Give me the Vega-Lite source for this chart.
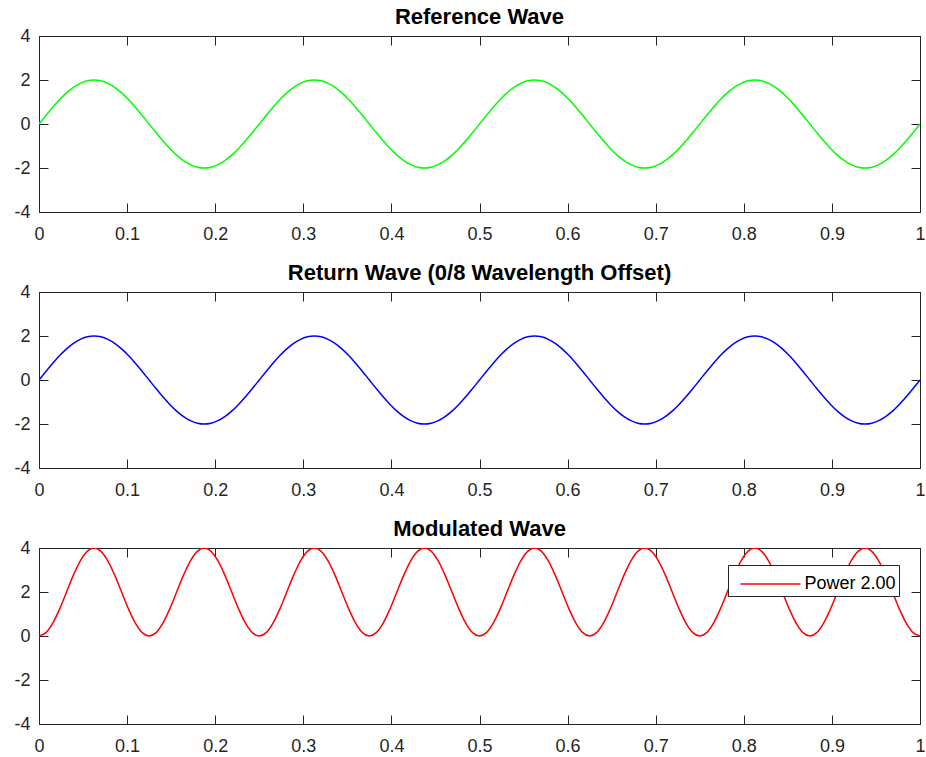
{
"$schema":"https://vega.github.io/schema/vega-lite/v6.json",
"padding":{"left":13,"top":6,"right":1,"bottom":2},
"spacing":19,
"resolve":{"legend":{"color":"independent"},"scale":{"color":"independent"}},
"config":{
"view":{"stroke":null},
"font":"Liberation Sans",
"axis":{"grid":false,"labelFlush":false,"domainColor":"#262626","domainWidth":1,"tickColor":"#262626","tickWidth":1,"tickSize":-9,"labelColor":"#262626","labelFont":"Liberation Sans","labelFontSize":18,"title":null,"labelPadding":22,"labelExpr":"replace(datum.label, '−', '-')"},
"axisY":{"labelPadding":18},
"title":{"font":"Liberation Sans","fontSize":22,"fontWeight":"bold","color":"#000000","offset":-2},
"legend":{"labelFont":"Liberation Sans","labelFontSize":18,"labelColor":"#000000"}
},
"data":{"values":[
{"x":0,"ref":0,"ret":0,"mod":0},
{"x":0.0078125,"ref":0.3902,"ret":0.3902,"mod":0.1522},
{"x":0.015625,"ref":0.7654,"ret":0.7654,"mod":0.5858},
{"x":0.0234375,"ref":1.1111,"ret":1.1111,"mod":1.2346},
{"x":0.03125,"ref":1.4142,"ret":1.4142,"mod":2},
{"x":0.0390625,"ref":1.6629,"ret":1.6629,"mod":2.7654},
{"x":0.046875,"ref":1.8478,"ret":1.8478,"mod":3.4142},
{"x":0.0546875,"ref":1.9616,"ret":1.9616,"mod":3.8478},
{"x":0.0625,"ref":2,"ret":2,"mod":4},
{"x":0.0703125,"ref":1.9616,"ret":1.9616,"mod":3.8478},
{"x":0.078125,"ref":1.8478,"ret":1.8478,"mod":3.4142},
{"x":0.0859375,"ref":1.6629,"ret":1.6629,"mod":2.7654},
{"x":0.09375,"ref":1.4142,"ret":1.4142,"mod":2},
{"x":0.1015625,"ref":1.1111,"ret":1.1111,"mod":1.2346},
{"x":0.109375,"ref":0.7654,"ret":0.7654,"mod":0.5858},
{"x":0.1171875,"ref":0.3902,"ret":0.3902,"mod":0.1522},
{"x":0.125,"ref":0,"ret":0,"mod":0},
{"x":0.1328125,"ref":-0.3902,"ret":-0.3902,"mod":0.1522},
{"x":0.140625,"ref":-0.7654,"ret":-0.7654,"mod":0.5858},
{"x":0.1484375,"ref":-1.1111,"ret":-1.1111,"mod":1.2346},
{"x":0.15625,"ref":-1.4142,"ret":-1.4142,"mod":2},
{"x":0.1640625,"ref":-1.6629,"ret":-1.6629,"mod":2.7654},
{"x":0.171875,"ref":-1.8478,"ret":-1.8478,"mod":3.4142},
{"x":0.1796875,"ref":-1.9616,"ret":-1.9616,"mod":3.8478},
{"x":0.1875,"ref":-2,"ret":-2,"mod":4},
{"x":0.1953125,"ref":-1.9616,"ret":-1.9616,"mod":3.8478},
{"x":0.203125,"ref":-1.8478,"ret":-1.8478,"mod":3.4142},
{"x":0.2109375,"ref":-1.6629,"ret":-1.6629,"mod":2.7654},
{"x":0.21875,"ref":-1.4142,"ret":-1.4142,"mod":2},
{"x":0.2265625,"ref":-1.1111,"ret":-1.1111,"mod":1.2346},
{"x":0.234375,"ref":-0.7654,"ret":-0.7654,"mod":0.5858},
{"x":0.2421875,"ref":-0.3902,"ret":-0.3902,"mod":0.1522},
{"x":0.25,"ref":0,"ret":0,"mod":0},
{"x":0.2578125,"ref":0.3902,"ret":0.3902,"mod":0.1522},
{"x":0.265625,"ref":0.7654,"ret":0.7654,"mod":0.5858},
{"x":0.2734375,"ref":1.1111,"ret":1.1111,"mod":1.2346},
{"x":0.28125,"ref":1.4142,"ret":1.4142,"mod":2},
{"x":0.2890625,"ref":1.6629,"ret":1.6629,"mod":2.7654},
{"x":0.296875,"ref":1.8478,"ret":1.8478,"mod":3.4142},
{"x":0.3046875,"ref":1.9616,"ret":1.9616,"mod":3.8478},
{"x":0.3125,"ref":2,"ret":2,"mod":4},
{"x":0.3203125,"ref":1.9616,"ret":1.9616,"mod":3.8478},
{"x":0.328125,"ref":1.8478,"ret":1.8478,"mod":3.4142},
{"x":0.3359375,"ref":1.6629,"ret":1.6629,"mod":2.7654},
{"x":0.34375,"ref":1.4142,"ret":1.4142,"mod":2},
{"x":0.3515625,"ref":1.1111,"ret":1.1111,"mod":1.2346},
{"x":0.359375,"ref":0.7654,"ret":0.7654,"mod":0.5858},
{"x":0.3671875,"ref":0.3902,"ret":0.3902,"mod":0.1522},
{"x":0.375,"ref":0,"ret":0,"mod":0},
{"x":0.3828125,"ref":-0.3902,"ret":-0.3902,"mod":0.1522},
{"x":0.390625,"ref":-0.7654,"ret":-0.7654,"mod":0.5858},
{"x":0.3984375,"ref":-1.1111,"ret":-1.1111,"mod":1.2346},
{"x":0.40625,"ref":-1.4142,"ret":-1.4142,"mod":2},
{"x":0.4140625,"ref":-1.6629,"ret":-1.6629,"mod":2.7654},
{"x":0.421875,"ref":-1.8478,"ret":-1.8478,"mod":3.4142},
{"x":0.4296875,"ref":-1.9616,"ret":-1.9616,"mod":3.8478},
{"x":0.4375,"ref":-2,"ret":-2,"mod":4},
{"x":0.4453125,"ref":-1.9616,"ret":-1.9616,"mod":3.8478},
{"x":0.453125,"ref":-1.8478,"ret":-1.8478,"mod":3.4142},
{"x":0.4609375,"ref":-1.6629,"ret":-1.6629,"mod":2.7654},
{"x":0.46875,"ref":-1.4142,"ret":-1.4142,"mod":2},
{"x":0.4765625,"ref":-1.1111,"ret":-1.1111,"mod":1.2346},
{"x":0.484375,"ref":-0.7654,"ret":-0.7654,"mod":0.5858},
{"x":0.4921875,"ref":-0.3902,"ret":-0.3902,"mod":0.1522},
{"x":0.5,"ref":0,"ret":0,"mod":0},
{"x":0.5078125,"ref":0.3902,"ret":0.3902,"mod":0.1522},
{"x":0.515625,"ref":0.7654,"ret":0.7654,"mod":0.5858},
{"x":0.5234375,"ref":1.1111,"ret":1.1111,"mod":1.2346},
{"x":0.53125,"ref":1.4142,"ret":1.4142,"mod":2},
{"x":0.5390625,"ref":1.6629,"ret":1.6629,"mod":2.7654},
{"x":0.546875,"ref":1.8478,"ret":1.8478,"mod":3.4142},
{"x":0.5546875,"ref":1.9616,"ret":1.9616,"mod":3.8478},
{"x":0.5625,"ref":2,"ret":2,"mod":4},
{"x":0.5703125,"ref":1.9616,"ret":1.9616,"mod":3.8478},
{"x":0.578125,"ref":1.8478,"ret":1.8478,"mod":3.4142},
{"x":0.5859375,"ref":1.6629,"ret":1.6629,"mod":2.7654},
{"x":0.59375,"ref":1.4142,"ret":1.4142,"mod":2},
{"x":0.6015625,"ref":1.1111,"ret":1.1111,"mod":1.2346},
{"x":0.609375,"ref":0.7654,"ret":0.7654,"mod":0.5858},
{"x":0.6171875,"ref":0.3902,"ret":0.3902,"mod":0.1522},
{"x":0.625,"ref":0,"ret":0,"mod":0},
{"x":0.6328125,"ref":-0.3902,"ret":-0.3902,"mod":0.1522},
{"x":0.640625,"ref":-0.7654,"ret":-0.7654,"mod":0.5858},
{"x":0.6484375,"ref":-1.1111,"ret":-1.1111,"mod":1.2346},
{"x":0.65625,"ref":-1.4142,"ret":-1.4142,"mod":2},
{"x":0.6640625,"ref":-1.6629,"ret":-1.6629,"mod":2.7654},
{"x":0.671875,"ref":-1.8478,"ret":-1.8478,"mod":3.4142},
{"x":0.6796875,"ref":-1.9616,"ret":-1.9616,"mod":3.8478},
{"x":0.6875,"ref":-2,"ret":-2,"mod":4},
{"x":0.6953125,"ref":-1.9616,"ret":-1.9616,"mod":3.8478},
{"x":0.703125,"ref":-1.8478,"ret":-1.8478,"mod":3.4142},
{"x":0.7109375,"ref":-1.6629,"ret":-1.6629,"mod":2.7654},
{"x":0.71875,"ref":-1.4142,"ret":-1.4142,"mod":2},
{"x":0.7265625,"ref":-1.1111,"ret":-1.1111,"mod":1.2346},
{"x":0.734375,"ref":-0.7654,"ret":-0.7654,"mod":0.5858},
{"x":0.7421875,"ref":-0.3902,"ret":-0.3902,"mod":0.1522},
{"x":0.75,"ref":0,"ret":0,"mod":0},
{"x":0.7578125,"ref":0.3902,"ret":0.3902,"mod":0.1522},
{"x":0.765625,"ref":0.7654,"ret":0.7654,"mod":0.5858},
{"x":0.7734375,"ref":1.1111,"ret":1.1111,"mod":1.2346},
{"x":0.78125,"ref":1.4142,"ret":1.4142,"mod":2},
{"x":0.7890625,"ref":1.6629,"ret":1.6629,"mod":2.7654},
{"x":0.796875,"ref":1.8478,"ret":1.8478,"mod":3.4142},
{"x":0.8046875,"ref":1.9616,"ret":1.9616,"mod":3.8478},
{"x":0.8125,"ref":2,"ret":2,"mod":4},
{"x":0.8203125,"ref":1.9616,"ret":1.9616,"mod":3.8478},
{"x":0.828125,"ref":1.8478,"ret":1.8478,"mod":3.4142},
{"x":0.8359375,"ref":1.6629,"ret":1.6629,"mod":2.7654},
{"x":0.84375,"ref":1.4142,"ret":1.4142,"mod":2},
{"x":0.8515625,"ref":1.1111,"ret":1.1111,"mod":1.2346},
{"x":0.859375,"ref":0.7654,"ret":0.7654,"mod":0.5858},
{"x":0.8671875,"ref":0.3902,"ret":0.3902,"mod":0.1522},
{"x":0.875,"ref":0,"ret":0,"mod":0},
{"x":0.8828125,"ref":-0.3902,"ret":-0.3902,"mod":0.1522},
{"x":0.890625,"ref":-0.7654,"ret":-0.7654,"mod":0.5858},
{"x":0.8984375,"ref":-1.1111,"ret":-1.1111,"mod":1.2346},
{"x":0.90625,"ref":-1.4142,"ret":-1.4142,"mod":2},
{"x":0.9140625,"ref":-1.6629,"ret":-1.6629,"mod":2.7654},
{"x":0.921875,"ref":-1.8478,"ret":-1.8478,"mod":3.4142},
{"x":0.9296875,"ref":-1.9616,"ret":-1.9616,"mod":3.8478},
{"x":0.9375,"ref":-2,"ret":-2,"mod":4},
{"x":0.9453125,"ref":-1.9616,"ret":-1.9616,"mod":3.8478},
{"x":0.953125,"ref":-1.8478,"ret":-1.8478,"mod":3.4142},
{"x":0.9609375,"ref":-1.6629,"ret":-1.6629,"mod":2.7654},
{"x":0.96875,"ref":-1.4142,"ret":-1.4142,"mod":2},
{"x":0.9765625,"ref":-1.1111,"ret":-1.1111,"mod":1.2346},
{"x":0.984375,"ref":-0.7654,"ret":-0.7654,"mod":0.5858},
{"x":0.9921875,"ref":-0.3902,"ret":-0.3902,"mod":0.1522},
{"x":1,"ref":0,"ret":0,"mod":0}
]},
"vconcat":[
{"width":881,"height":176,"title":"Reference Wave",
"layer":[
{"mark":{"type":"line","color":"#00ff00","strokeWidth":1.5,"interpolate":"monotone","clip":true},
"encoding":{
"x":{"field":"x","type":"quantitative","scale":{"domain":[0,1],"nice":false,"zero":false},"axis":{"orient":"bottom","values":[0,0.1,0.2,0.3,0.4,0.5,0.6,0.7,0.8,0.9,1],"format":"~g"}},
"y":{"field":"ref","type":"quantitative","scale":{"domain":[-4,4],"nice":false},"axis":{"orient":"left","values":[-4,-2,0,2,4]}}}},
{"mark":{"type":"line","strokeOpacity":0},
"encoding":{
"x":{"field":"x","type":"quantitative","axis":{"orient":"top","values":[0,0.1,0.2,0.3,0.4,0.5,0.6,0.7,0.8,0.9,1],"labels":false}},
"y":{"field":"ref","type":"quantitative","axis":{"orient":"right","values":[-4,-2,0,2,4],"labels":false}}}}
],
"resolve":{"axis":{"x":"independent","y":"independent"}}},
{"width":881,"height":176,"title":"Return Wave (0/8 Wavelength Offset)",
"layer":[
{"mark":{"type":"line","color":"#0000ff","strokeWidth":1.5,"interpolate":"monotone","clip":true},
"encoding":{
"x":{"field":"x","type":"quantitative","scale":{"domain":[0,1],"nice":false,"zero":false},"axis":{"orient":"bottom","values":[0,0.1,0.2,0.3,0.4,0.5,0.6,0.7,0.8,0.9,1],"format":"~g"}},
"y":{"field":"ret","type":"quantitative","scale":{"domain":[-4,4],"nice":false},"axis":{"orient":"left","values":[-4,-2,0,2,4]}}}},
{"mark":{"type":"line","strokeOpacity":0},
"encoding":{
"x":{"field":"x","type":"quantitative","axis":{"orient":"top","values":[0,0.1,0.2,0.3,0.4,0.5,0.6,0.7,0.8,0.9,1],"labels":false}},
"y":{"field":"ret","type":"quantitative","axis":{"orient":"right","values":[-4,-2,0,2,4],"labels":false}}}}
],
"resolve":{"axis":{"x":"independent","y":"independent"}}},
{"width":881,"height":176,"title":"Modulated Wave",
"layer":[
{"mark":{"type":"line","strokeWidth":1.5,"interpolate":"monotone","clip":true},
"encoding":{
"x":{"field":"x","type":"quantitative","scale":{"domain":[0,1],"nice":false,"zero":false},"axis":{"orient":"bottom","values":[0,0.1,0.2,0.3,0.4,0.5,0.6,0.7,0.8,0.9,1],"format":"~g"}},
"y":{"field":"mod","type":"quantitative","scale":{"domain":[-4,4],"nice":false},"axis":{"orient":"left","values":[-4,-2,0,2,4]}},
"color":{"datum":"Power 2.00","type":"nominal","scale":{"range":["#ff0000"]},"legend":{"orient":"none","legendX":689,"legendY":17,"title":null,"symbolType":"M-2,0L2,0","symbolSize":900,"symbolStrokeWidth":1.5,"symbolOffset":23.5,"strokeColor":"#262626","fillColor":"#ffffff","padding":3,"labelOffset":18,"cornerRadius":0}}}},
{"mark":{"type":"line","strokeOpacity":0},
"encoding":{
"x":{"field":"x","type":"quantitative","axis":{"orient":"top","values":[0,0.1,0.2,0.3,0.4,0.5,0.6,0.7,0.8,0.9,1],"labels":false}},
"y":{"field":"mod","type":"quantitative","axis":{"orient":"right","values":[-4,-2,0,2,4],"labels":false}}}}
],
"resolve":{"axis":{"x":"independent","y":"independent"}}}
]
}
